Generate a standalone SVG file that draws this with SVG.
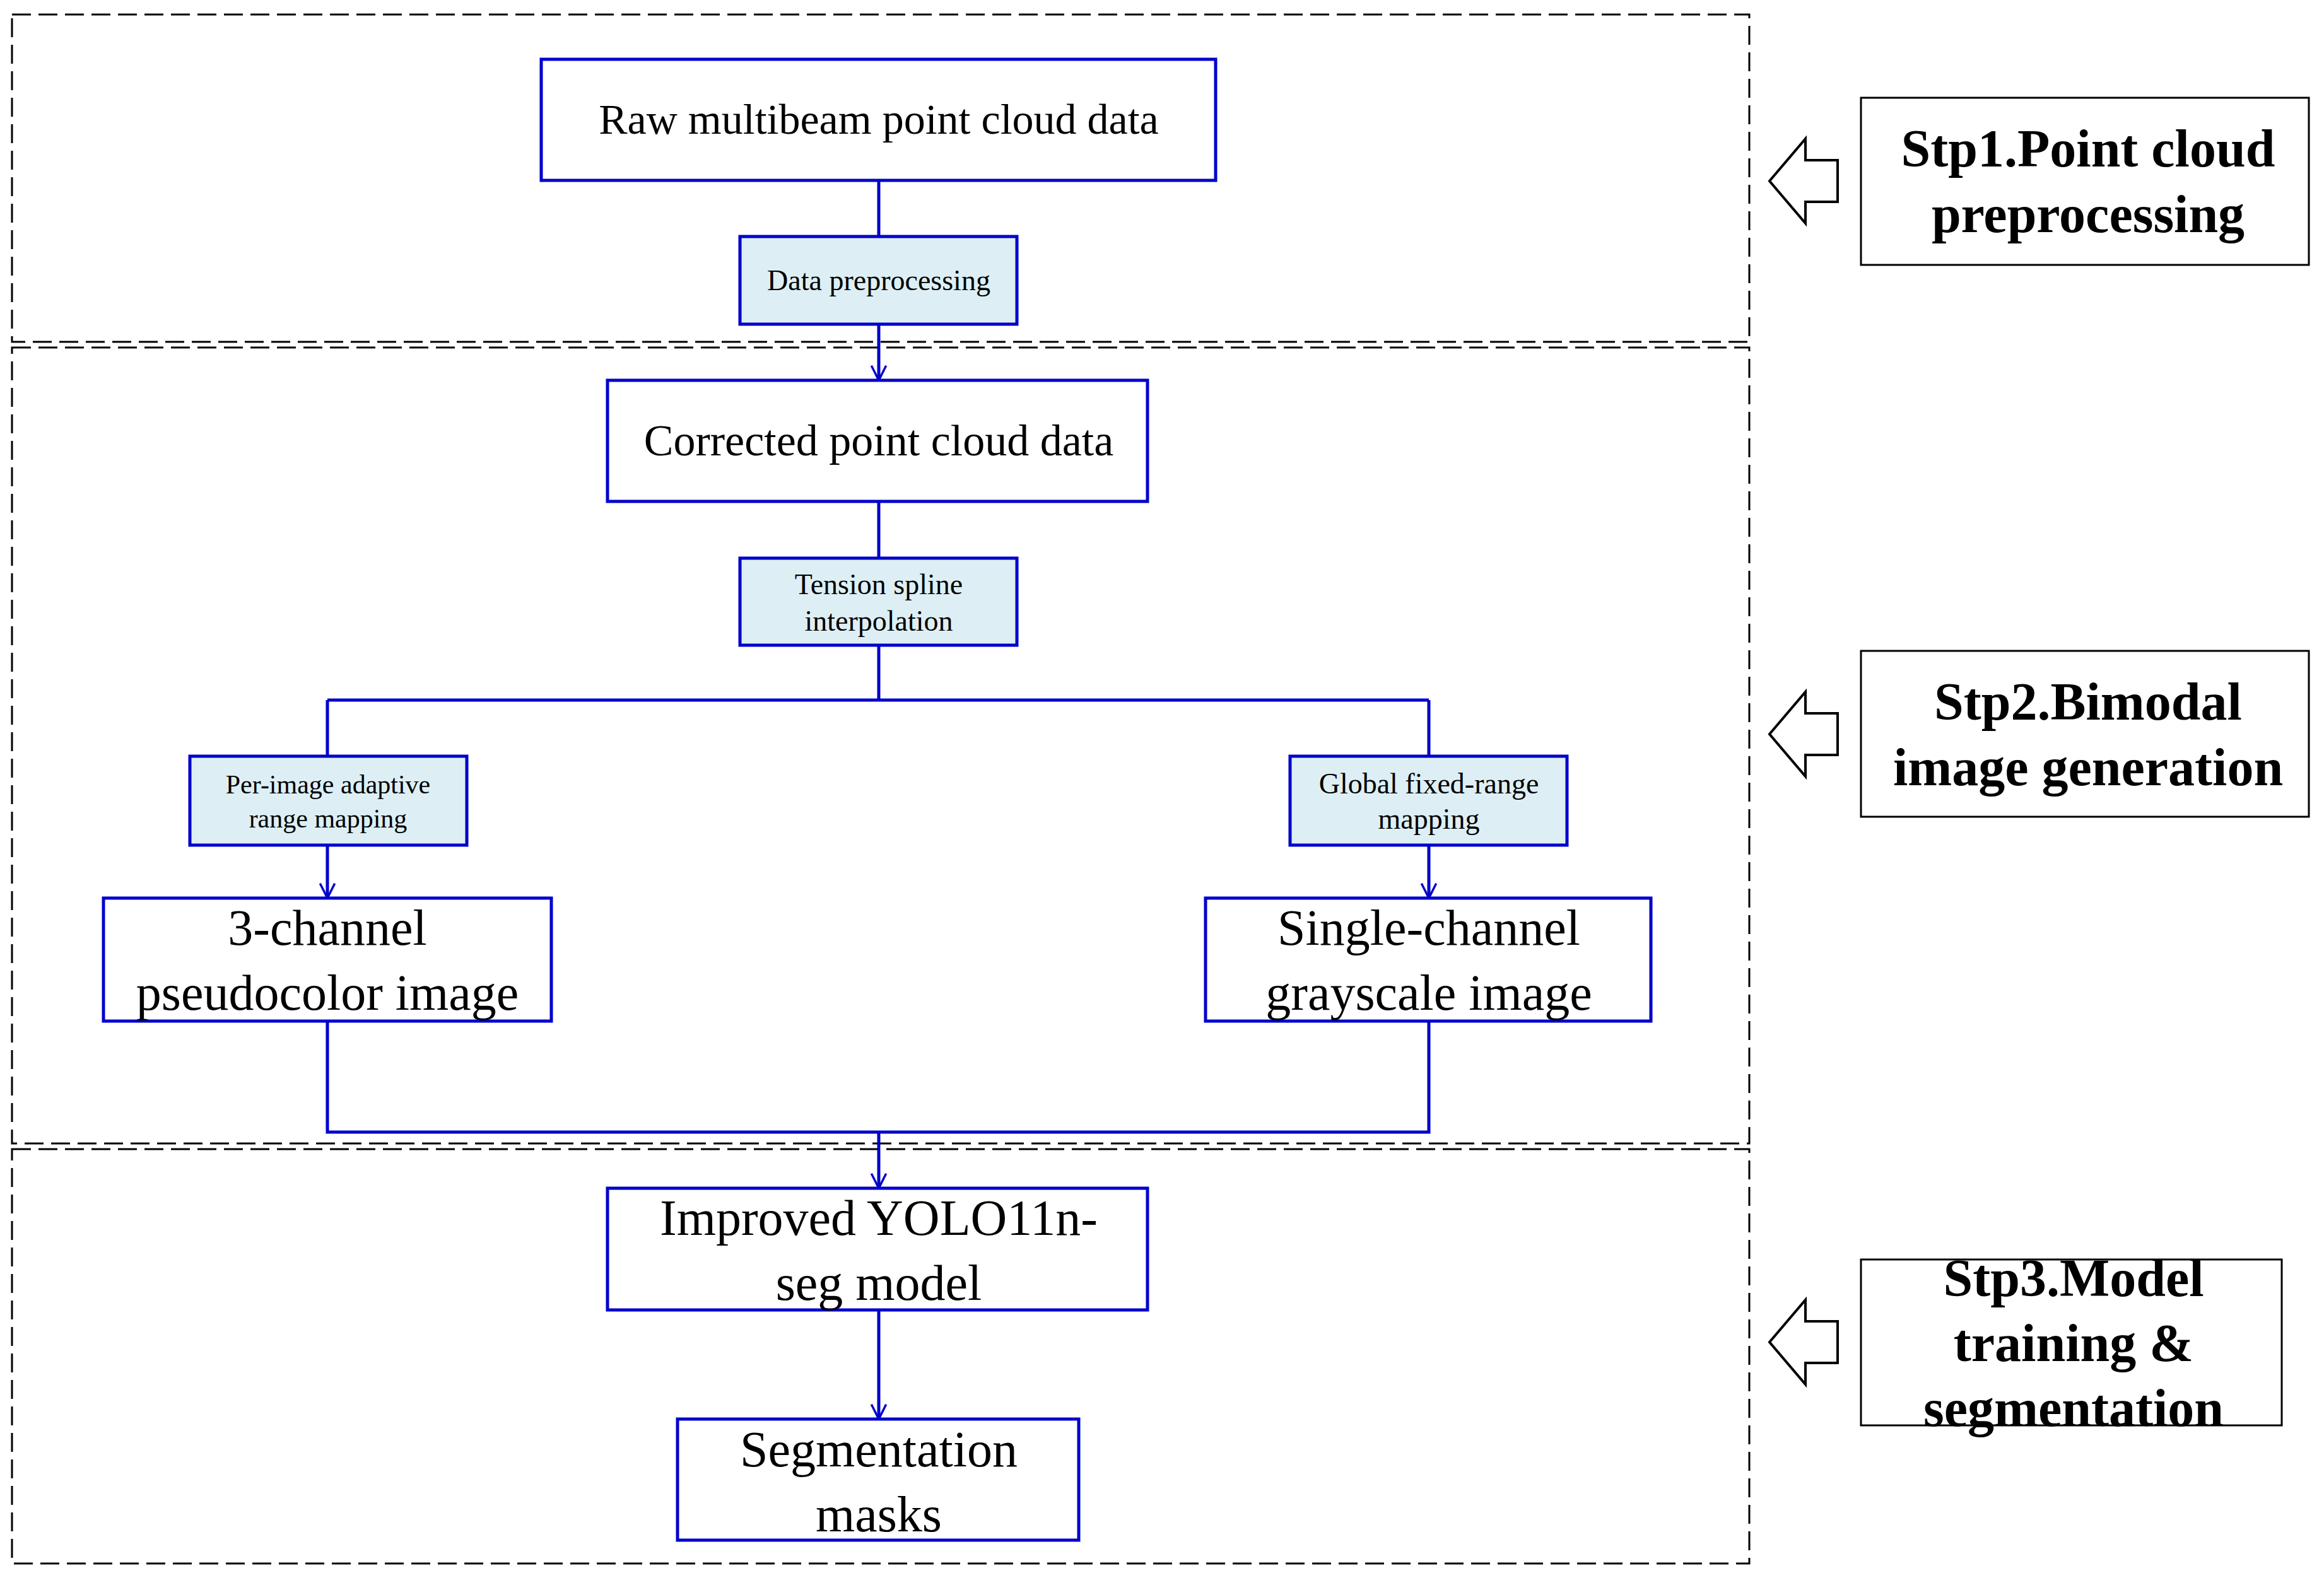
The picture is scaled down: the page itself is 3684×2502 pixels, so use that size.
<svg xmlns="http://www.w3.org/2000/svg" width="3684" height="2502" viewBox="0 0 3684 2502">
<style>
.b{fill:#fff;stroke:#0000CC;stroke-width:5}
.s{fill:#DDEFF5;stroke:#0000CC;stroke-width:5}
.d{fill:none;stroke:#000;stroke-width:3;stroke-dasharray:30 12}
.c{fill:none;stroke:#0000CC;stroke-width:5}
.t{font-family:"Liberation Serif",serif;text-anchor:middle;fill:#000}
.r{fill:#fff;stroke:#000;stroke-width:3}
.h{fill:#fff;stroke:#000;stroke-width:4}
</style>
<defs>
<marker id="m" viewBox="0 0 24 24" refX="22" refY="12" markerWidth="28" markerHeight="28" orient="auto" markerUnits="userSpaceOnUse"><path d="M2,2 L22,12 L2,22" fill="none" stroke="#0000CC" stroke-width="3"/></marker></defs>
<g id="frames">
<rect class="d" x="19" y="23" width="2754" height="519"/>
<rect class="d" x="19" y="551" width="2754" height="1262"/>
<rect class="d" x="19" y="1822" width="2754" height="657"/>
</g>
<g id="connectors">
<path class="c" d="M1393,286 V375"/>
<path class="c" d="M1393,514 V603" marker-end="url(#m)"/>
<path class="c" d="M1393,795 V885"/>
<path class="c" d="M1393,1023 V1110 M519,1110 H2265 M519,1110 V1199 M2265,1110 V1199"/>
<path class="c" d="M519,1340 V1424" marker-end="url(#m)"/>
<path class="c" d="M2265,1340 V1424" marker-end="url(#m)"/>
<path class="c" d="M519,1619 V1795 H2265 V1619"/>
<path class="c" d="M1393,1795 V1884" marker-end="url(#m)"/>
<path class="c" d="M1393,2077 V2250" marker-end="url(#m)"/>
</g>
<g id="n1"><rect class="b" x="858" y="94" width="1069" height="192"/><text class="t" x="1393" y="212" font-size="68">Raw multibeam point cloud data</text></g>
<g id="n2"><rect class="s" x="1173" y="375" width="439" height="139"/><text class="t" x="1393" y="460" font-size="46">Data preprocessing</text></g>
<g id="n3"><rect class="b" x="963" y="603" width="856" height="192"/><text class="t" x="1393" y="722" font-size="70">Corrected point cloud data</text></g>
<g id="n4"><rect class="s" x="1173" y="885" width="439" height="138"/><text class="t" x="1393" y="942" font-size="46">Tension spline</text><text class="t" x="1393" y="1000" font-size="46">interpolation</text></g>
<g id="n5"><rect class="s" x="301" y="1199" width="439" height="141"/><text class="t" x="520" y="1258" font-size="42">Per-image adaptive</text><text class="t" x="520" y="1312" font-size="42">range mapping</text></g>
<g id="n6"><rect class="s" x="2045" y="1199" width="439" height="141"/><text class="t" x="2265" y="1258" font-size="46">Global fixed-range</text><text class="t" x="2265" y="1314" font-size="46">mapping</text></g>
<g id="n7"><rect class="b" x="164" y="1424" width="710" height="195"/><text class="t" x="519" y="1498" font-size="80">3-channel</text><text class="t" x="519" y="1601" font-size="80">pseudocolor image</text></g>
<g id="n8"><rect class="b" x="1911" y="1424" width="706" height="195"/><text class="t" x="2265" y="1498" font-size="80">Single-channel</text><text class="t" x="2265" y="1601" font-size="80">grayscale image</text></g>
<g id="n9"><rect class="b" x="963" y="1884" width="856" height="193"/><text class="t" x="1393" y="1958" font-size="80">Improved YOLO11n-</text><text class="t" x="1393" y="2061" font-size="80">seg model</text></g>
<g id="n10"><rect class="b" x="1074" y="2250" width="636" height="192"/><text class="t" x="1393" y="2325" font-size="80">Segmentation</text><text class="t" x="1393" y="2428" font-size="80">masks</text></g>
<g id="s1"><path class="h" d="M2805,287 L2862,220 V254 H2913 V320 H2862 V354 Z"/><rect class="r" x="2950" y="155" width="710" height="265"/><text class="t" x="3310" y="264" font-size="84" font-weight="bold">Stp1.Point cloud</text><text class="t" x="3310" y="368" font-size="84" font-weight="bold">preprocessing</text></g>
<g id="s2"><path class="h" d="M2805,1164 L2862,1097 V1131 H2913 V1197 H2862 V1231 Z"/><rect class="r" x="2950" y="1032" width="710" height="263"/><text class="t" x="3310" y="1141" font-size="84" font-weight="bold">Stp2.Bimodal</text><text class="t" x="3310" y="1245" font-size="84" font-weight="bold">image generation</text></g>
<g id="s3"><path class="h" d="M2805,2128 L2862,2061 V2095 H2913 V2161 H2862 V2195 Z"/><rect class="r" x="2950" y="1997" width="667" height="263"/><text class="t" x="3287" y="2055" font-size="84" font-weight="bold">Stp3.Model</text><text class="t" x="3287" y="2158" font-size="84" font-weight="bold">training &amp;</text><text class="t" x="3287" y="2261" font-size="84" font-weight="bold">segmentation</text></g>
</svg>
